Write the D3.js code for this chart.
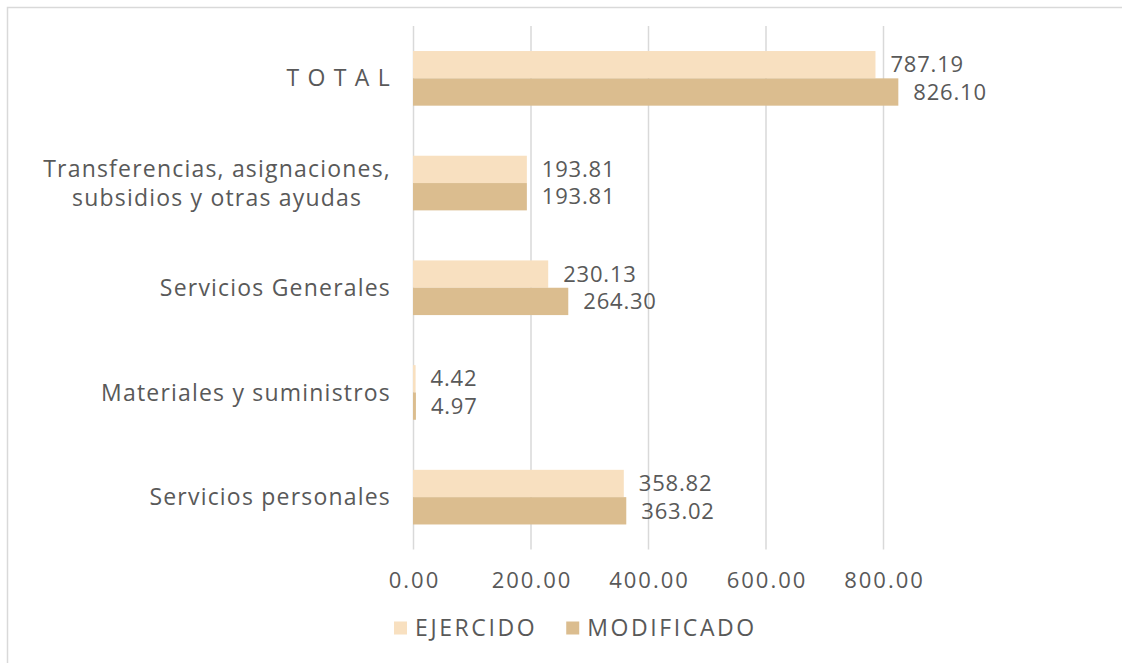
<!DOCTYPE html>
<meta charset="utf-8">
<head>
<style>
body { margin: 0; background: #fff; }
svg { display: block; }
text { font-family: "Open Sans", sans-serif; fill: #595959; }
.grid line { stroke: #d9d9d9; stroke-width: 1.5px; }
.grid .domain { display: none; }
.catlabel { font-size: 23px; letter-spacing: 1.2px; }
.val { font-size: 22px; letter-spacing: 0.8px; }
.legend text { font-size: 23px; letter-spacing: 2.6px; }
</style>
<script src="https://d3js.org/d3.v7.min.js"></script>
</head>
<body>
<svg width="1122" height="663"></svg>
<script>

// categories top to bottom, label lines split on "|"
var categories = ["T O T A L", "Transferencias, asignaciones,|subsidios y otras ayudas", "Servicios Generales", "Materiales y suministros", "Servicios personales"];
var seriesNames = ["EJERCIDO", "MODIFICADO"];
var ejercido = [787.19, 193.81, 230.13, 4.42, 358.82];
var modificado = [826.10, 193.81, 264.30, 4.97, 363.02];
var tickValues = [0, 200, 400, 600, 800];
var colors = ["#f8e0c0", "#dbbd8f"];

var svg = d3.select("svg");

// chart frame (only top and left edges fall inside the picture)
svg.append("rect")
    .attr("x", 7.5).attr("y", 7.5)
    .attr("width", 1200).attr("height", 700)
    .attr("fill", "none")
    .attr("stroke", "#d9d9d9")
    .attr("stroke-width", 1.5);

var plotTop = 26, plotBottom = 549.5;

var x = d3.scaleLinear()
    .domain([0, 900])
    .range([413, 941.75]);

var y = d3.scaleBand()
    .domain(categories)
    .range([plotTop, plotBottom])
    .paddingInner(0.478)
    .paddingOuter(0.239);

var ySub = d3.scaleBand()
    .domain(seriesNames)
    .range([0, y.bandwidth()]);

// gridlines
svg.append("g")
    .attr("class", "grid")
    .attr("transform", "translate(0," + plotBottom + ")")
    .call(d3.axisBottom(x).tickValues(tickValues).tickSize(-(plotBottom - plotTop)).tickFormat(""));

// tick labels
var xAxis = svg.append("g")
    .attr("transform", "translate(0," + plotBottom + ")")
    .call(d3.axisBottom(x).tickValues(tickValues).tickSize(0).tickPadding(23).tickFormat(d3.format(".2f")));
xAxis.select(".domain").remove();
xAxis.selectAll("text")
    .attr("fill", "#595959")
    .attr("dx", 1)
    .style("font-family", "'Open Sans', sans-serif")
    .style("font-size", "22px")
    .style("letter-spacing", "2px");

var rows = categories.map(function(c, i) {
  return { cat: c, values: [ejercido[i], modificado[i]] };
});

var groups = svg.selectAll(".cat")
  .data(rows)
  .enter().append("g")
    .attr("class", "cat")
    .attr("transform", function(d) { return "translate(0," + y(d.cat) + ")"; });

groups.selectAll("rect")
  .data(function(d) { return d.values.map(function(v, j) { return { name: seriesNames[j], value: v, i: j }; }); })
  .enter().append("rect")
    .attr("x", x(0))
    .attr("y", function(d) { return ySub(d.name); })
    .attr("width", function(d) { return x(d.value) - x(0); })
    .attr("height", ySub.bandwidth())
    .attr("fill", function(d) { return colors[d.i]; });

groups.selectAll(".val")
  .data(function(d) { return d.values.map(function(v, j) { return { name: seriesNames[j], value: v }; }); })
  .enter().append("text")
    .attr("class", "val")
    .attr("x", function(d) { return x(d.value) + 15; })
    .attr("y", function(d) { return ySub(d.name) + ySub.bandwidth() / 2; })
    .attr("dy", "0.35em")
    .text(function(d) { return d3.format(".2f")(d.value); });

// category labels: block right-aligned, wrapped lines centred inside it
var labelRight = 391;
svg.selectAll(".catlabel")
  .data(categories)
  .enter().append("text")
    .attr("class", "catlabel")
    .attr("text-anchor", "middle")
    .each(function(d) {
      var lines = d.split("|");
      var cy = y(d) + y.bandwidth() / 2;
      var lh = 29;
      var t = d3.select(this);
      var spans = lines.map(function(line, k) {
        return t.append("tspan")
          .attr("y", cy + (k - (lines.length - 1) / 2) * lh)
          .attr("dy", "0.35em")
          .text(line);
      });
      var maxW = d3.max(spans, function(s) { return s.node().getComputedTextLength(); });
      spans.forEach(function(s) { s.attr("x", labelRight - maxW / 2); });
    });

// legend
var legend = svg.append("g").attr("class", "legend");
var lx = 394, ly = 628;
seriesNames.forEach(function(name, i) {
  legend.append("rect")
    .attr("x", lx).attr("y", ly - 6.5)
    .attr("width", 13).attr("height", 13)
    .attr("fill", colors[i]);
  var t = legend.append("text")
    .attr("x", lx + 21).attr("y", ly)
    .attr("dy", "0.35em")
    .text(name);
  lx = lx + 21 + t.node().getComputedTextLength() + 29;
});

</script>
</body>
